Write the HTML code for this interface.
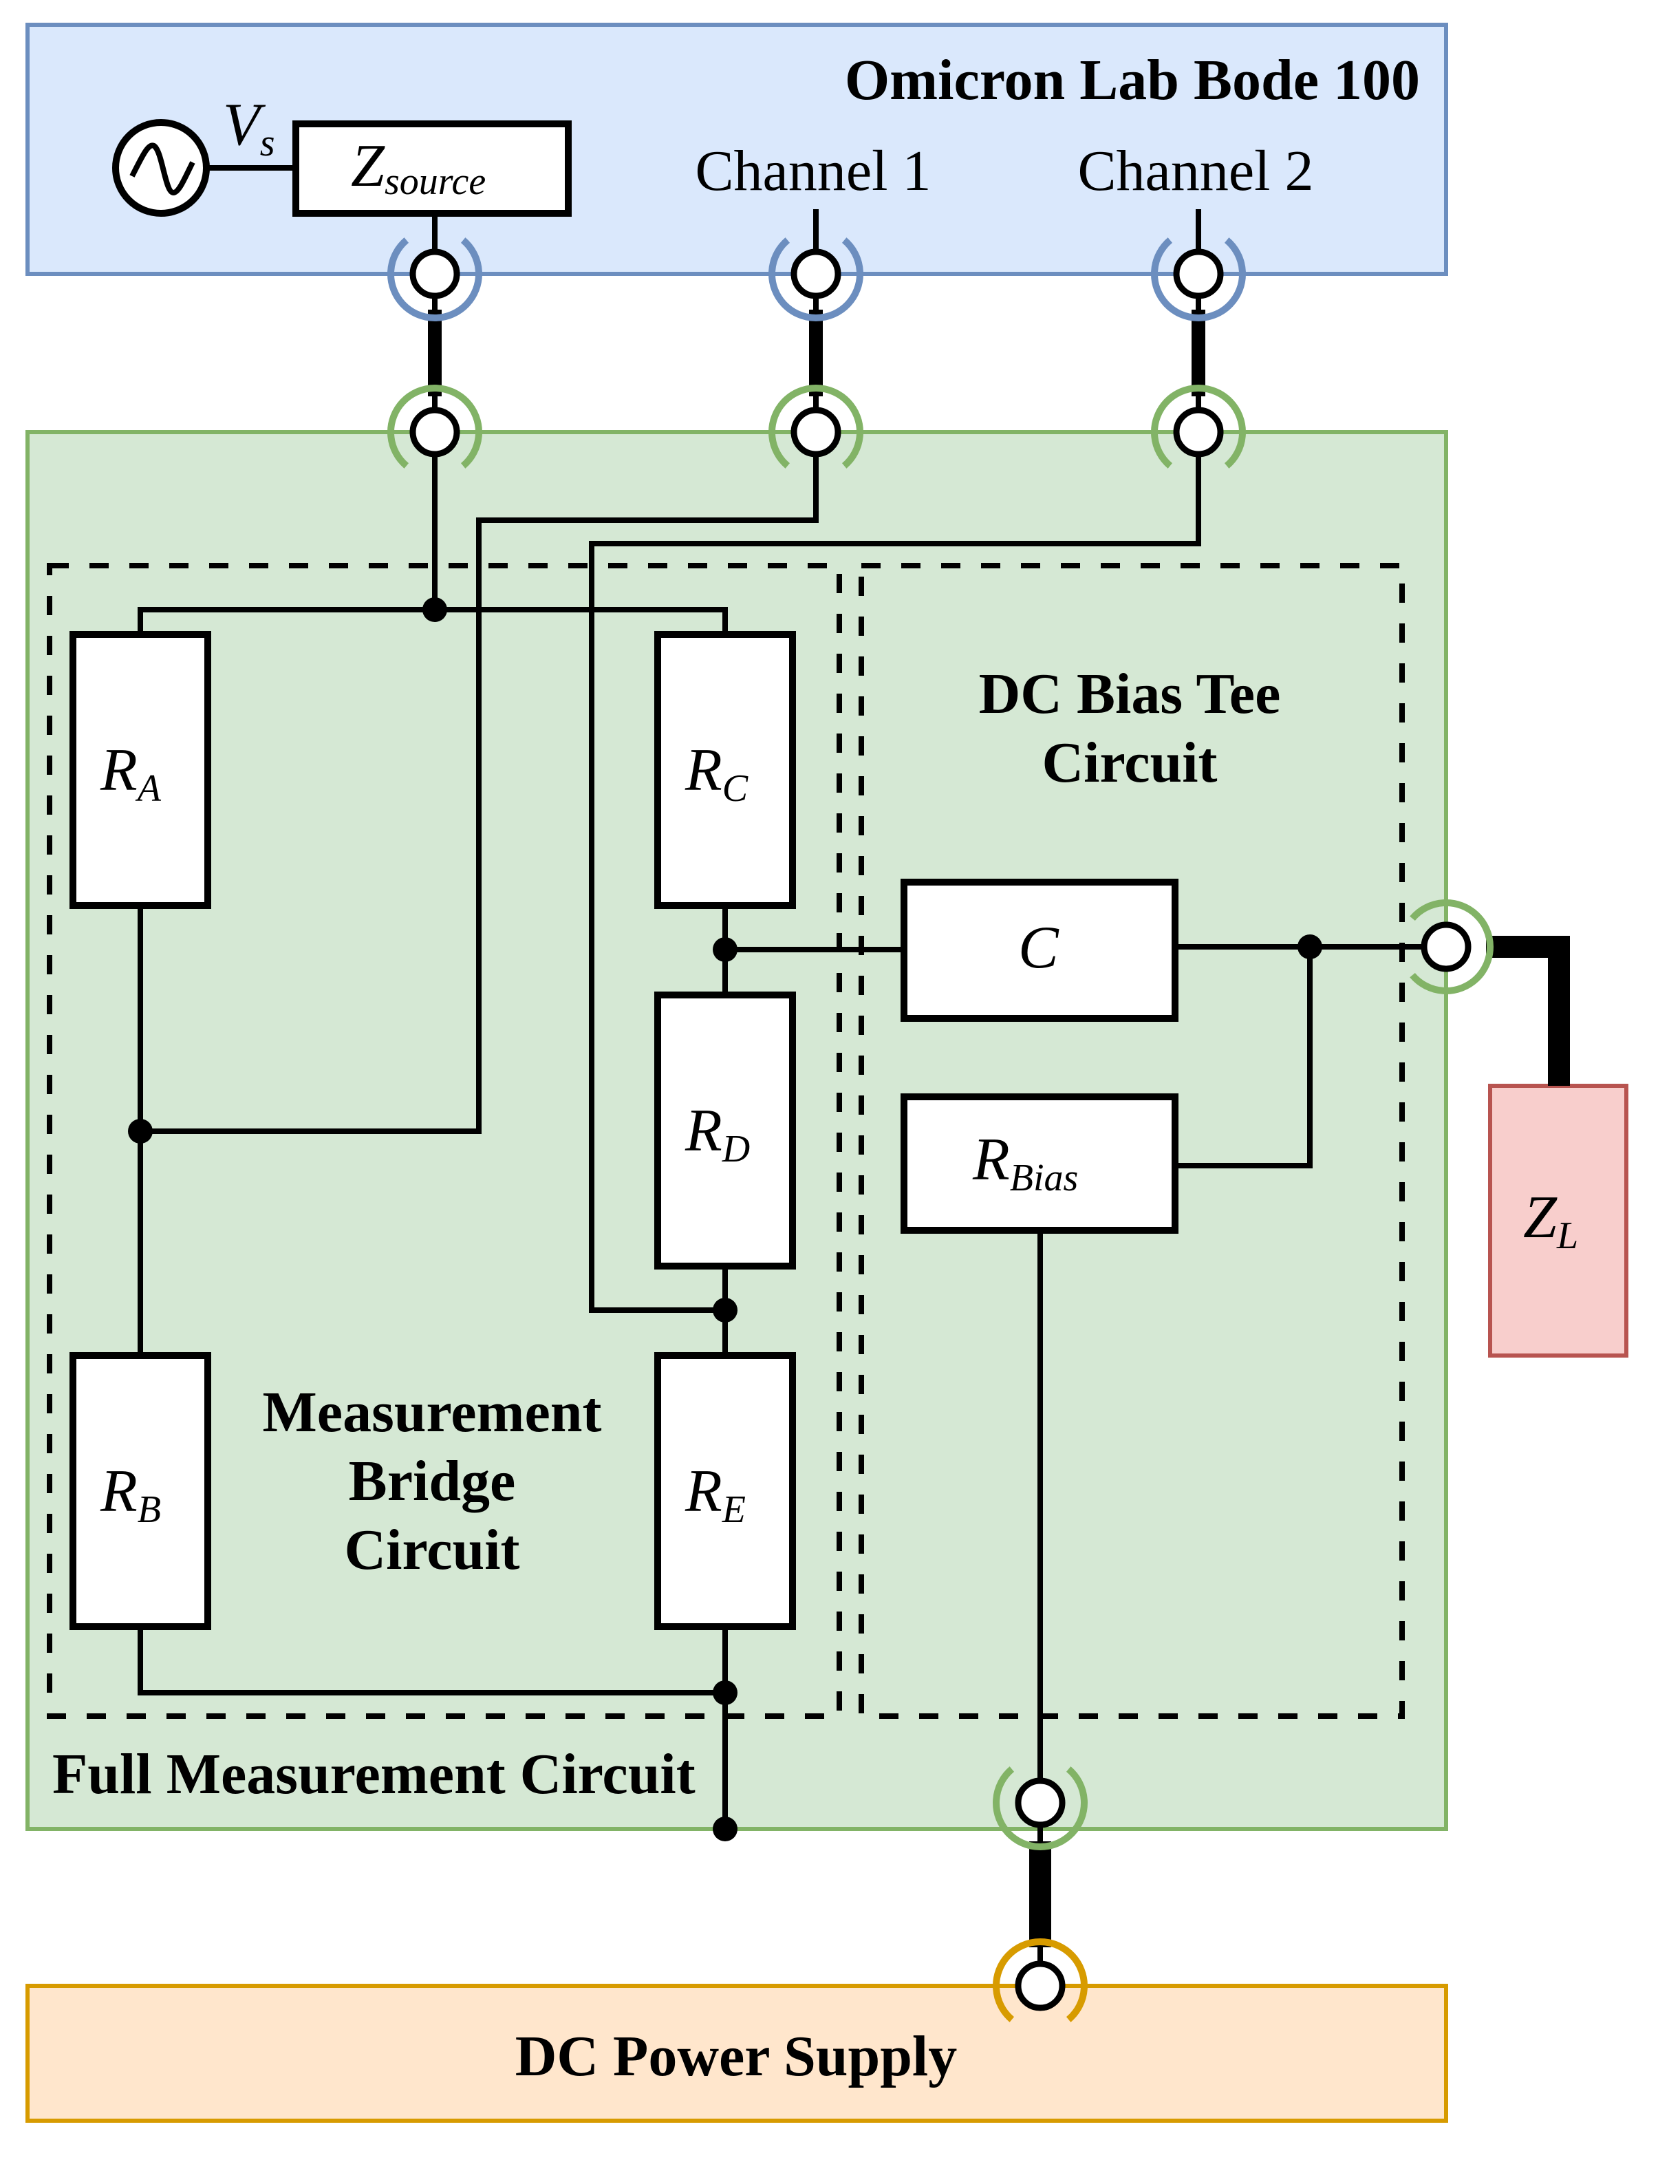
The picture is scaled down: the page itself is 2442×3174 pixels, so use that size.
<!DOCTYPE html>
<html><head><meta charset="utf-8"><style>
html,body{margin:0;padding:0;background:#fff;}
svg{display:block;}
.b{font-family:"Liberation Serif",serif;font-weight:bold;font-size:42px;}
.i{font-family:"Liberation Serif",serif;font-style:italic;font-size:44px;}
.n{font-family:"Liberation Serif",serif;font-size:42px;}
</style></head><body>
<svg width="2442" height="3174" viewBox="0 0 1221 1587" xmlns="http://www.w3.org/2000/svg">
<rect x="20" y="18" width="1031" height="181" fill="#dae8fc" stroke="#6c8ebf" stroke-width="3"/>
<rect x="20" y="314" width="1031" height="1015" fill="#d5e8d4" stroke="#82b366" stroke-width="3"/>
<rect x="20" y="1443" width="1031" height="98" fill="#ffe6cc" stroke="#d79b00" stroke-width="3"/>
<rect x="1083" y="789" width="99" height="196" fill="#f8cecc" stroke="#b85450" stroke-width="3"/>

<rect x="36" y="411" width="574" height="836" fill="none" stroke="#000" stroke-width="4" stroke-dasharray="14,15"/>
<rect x="626" y="411" width="393" height="836" fill="none" stroke="#000" stroke-width="4" stroke-dasharray="14,15"/>

<g stroke="#000" fill="none">
<line x1="316" y1="225" x2="316" y2="288" stroke-width="10"/>
<line x1="593" y1="225" x2="593" y2="288" stroke-width="10"/>
<line x1="871" y1="225" x2="871" y2="288" stroke-width="10"/>
<polyline points="1080,688 1133,688 1133,789" stroke-width="16"/>
<line x1="756" y1="1338" x2="756" y2="1415" stroke-width="16"/>
</g>

<g stroke="#000" stroke-width="4" fill="none">
<line x1="150" y1="122" x2="215" y2="122"/>
<line x1="316" y1="155" x2="316" y2="199"/>
<line x1="593" y1="152" x2="593" y2="199"/>
<line x1="871" y1="152" x2="871" y2="199"/>
<line x1="316" y1="199" x2="316" y2="314"/>
<line x1="593" y1="199" x2="593" y2="314"/>
<line x1="871" y1="199" x2="871" y2="314"/>
<line x1="316" y1="314" x2="316" y2="443"/>
<polyline points="102,461 102,443 527,443 527,461"/>
<line x1="102" y1="658" x2="102" y2="985"/>
<polyline points="102,822 348,822 348,378 593,378 593,314"/>
<polyline points="871,314 871,395 430,395 430,952 527,952"/>
<line x1="527" y1="658" x2="527" y2="723"/>
<line x1="527" y1="920" x2="527" y2="985"/>
<polyline points="102,1182 102,1230 527,1230"/>
<line x1="527" y1="1182" x2="527" y2="1329"/>
<line x1="527" y1="690" x2="657" y2="690"/>
<line x1="854" y1="688" x2="1051" y2="688"/>
<polyline points="854,847 952,847 952,688"/>
<line x1="756" y1="894" x2="756" y2="1443"/>
</g>

<g fill="#fff" stroke="#000" stroke-width="5">
<rect x="215" y="90" width="198" height="65"/>
<rect x="53" y="461" width="98" height="197"/>
<rect x="478" y="461" width="98" height="197"/>
<rect x="478" y="723" width="98" height="197"/>
<rect x="478" y="985" width="98" height="197"/>
<rect x="53" y="985" width="98" height="197"/>
<rect x="657" y="641" width="197" height="99"/>
<rect x="657" y="797" width="197" height="97"/>
<circle cx="117" cy="122" r="33"/>
</g>
<path d="M96,128 C104,112 108,104 112,106 C118,110 120,140 126,140 C130,140 134,130 140,118" fill="none" stroke="#000" stroke-width="4"/>

<g fill="#000">
<circle cx="316" cy="443" r="9"/>
<circle cx="102" cy="822" r="9"/>
<circle cx="527" cy="690" r="9"/>
<circle cx="527" cy="952" r="9"/>
<circle cx="527" cy="1230" r="9"/>
<circle cx="527" cy="1329" r="9"/>
<circle cx="952" cy="688" r="9"/>
</g>

<g stroke-width="5" fill="none">
<g stroke="#6c8ebf">
<path d="M336.6,174.5 A32,32 0 1 1 295.4,174.5"/>
<path d="M613.6,174.5 A32,32 0 1 1 572.4,174.5"/>
<path d="M891.6,174.5 A32,32 0 1 1 850.4,174.5"/>
</g>
<g stroke="#82b366">
<path d="M295.4,338.5 A32,32 0 1 1 336.6,338.5"/>
<path d="M572.4,338.5 A32,32 0 1 1 613.6,338.5"/>
<path d="M850.4,338.5 A32,32 0 1 1 891.6,338.5"/>
<path d="M1026.5,667.4 A32,32 0 1 1 1026.5,708.6"/>
<path d="M776.6,1285.5 A32,32 0 1 1 735.4,1285.5"/>
</g>
<path d="M735.4,1467.5 A32,32 0 1 1 776.6,1467.5" stroke="#d79b00"/>
</g>
<g fill="#fff" stroke="#000" stroke-width="4.5">
<circle cx="316" cy="199" r="16"/>
<circle cx="593" cy="199" r="16"/>
<circle cx="871" cy="199" r="16"/>
<circle cx="316" cy="314" r="16"/>
<circle cx="593" cy="314" r="16"/>
<circle cx="871" cy="314" r="16"/>
<circle cx="1051" cy="688" r="16"/>
<circle cx="756" cy="1310" r="16"/>
<circle cx="756" cy="1443" r="16"/>
</g>

<text class="b" x="1032" y="72" text-anchor="end">Omicron Lab Bode 100</text>
<text class="n" x="591" y="138" text-anchor="middle">Channel 1</text>
<text class="n" x="869" y="138" text-anchor="middle">Channel 2</text>
<text class="i" x="162" y="105">V<tspan font-size="28" dy="8">s</tspan></text>
<text class="i" x="255" y="135">Z<tspan font-size="28" dy="6">source</tspan></text>
<text class="i" x="73" y="574">R<tspan font-size="28" dy="8">A</tspan></text>
<text class="i" x="498" y="574">R<tspan font-size="28" dy="8">C</tspan></text>
<text class="i" x="498" y="836">R<tspan font-size="28" dy="8">D</tspan></text>
<text class="i" x="498" y="1098">R<tspan font-size="28" dy="8">E</tspan></text>
<text class="i" x="73" y="1098">R<tspan font-size="28" dy="8">B</tspan></text>
<text class="i" x="740" y="703">C</text>
<text class="i" x="707" y="857">R<tspan font-size="28" dy="8">Bias</tspan></text>
<text class="i" x="1107" y="899">Z<tspan font-size="28" dy="8">L</tspan></text>
<text class="b" x="821" y="518" text-anchor="middle">DC Bias Tee</text>
<text class="b" x="821" y="568" text-anchor="middle">Circuit</text>
<text class="b" x="314" y="1040" text-anchor="middle">Measurement</text>
<text class="b" x="314" y="1090" text-anchor="middle">Bridge</text>
<text class="b" x="314" y="1140" text-anchor="middle">Circuit</text>
<text class="b" x="38" y="1303">Full Measurement Circuit</text>
<text class="b" x="535" y="1508" text-anchor="middle">DC Power Supply</text>
</svg>
</body></html>
